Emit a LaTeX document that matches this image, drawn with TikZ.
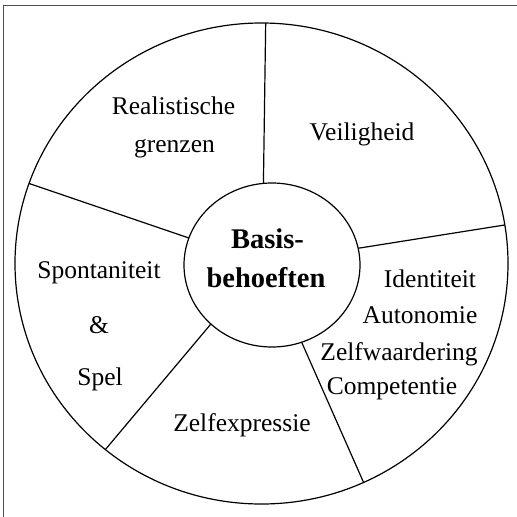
\documentclass[tikz,border=0pt]{standalone}
\usepackage{fontspec}
\setmainfont{Liberation Serif}
\usetikzlibrary{shapes.geometric}
\begin{document}
\begin{tikzpicture}[x=1pt,y=-1pt,
  ring/.style={ellipse,draw=black,line width=1.2pt,inner sep=0pt,outer sep=0pt},
  divider/.style={draw=black,line width=1.2pt},
  txt/.style={anchor=base,inner sep=0pt,font=\fontsize{25.5}{30}\selectfont},
  coretxt/.style={anchor=base,inner sep=0pt,font=\fontsize{28.5}{32}\selectfont\bfseries},
  framing/.style={draw=black!70,line width=1pt}]
\useasboundingbox (0,0) rectangle (517,517);
% frame (top and left edges visible)
\coordinate (fTL) at (3.5,5);
\coordinate (fTR) at (517,5);
\coordinate (fBL) at (3.5,517);
\draw[framing] (fTR) -- (fTL) -- (fBL);
% circles
\node[ring,minimum width=493pt,minimum height=481pt] (outer) at (261.5,263.5) {};
\node[ring,minimum width=176pt,minimum height=164pt] (inner) at (272,265) {};
% dividers
\draw[divider] (inner.96.3) -- (outer.89.3);
\draw[divider] (inner.162.4) -- (outer.161.6);
\draw[divider] (inner.11) -- (outer.9.2);
\draw[divider] (inner.-136.9) -- (outer.-130.7);
\draw[divider] (inner.-69.8) -- (outer.-65.1);
% texts
\node[coretxt] (b1) at (267.5,248) {Basis-};
\node[coretxt] (b2) at (266,287) {behoeften};
\node[txt] (r1) at (173.5,114) {Realistische};
\node[txt] (r2) at (174.5,152) {grenzen};
\node[txt] (v1) at (362,140) {Veiligheid};
\node[txt] (s1) at (99,278) {Spontaniteit};
\node[txt] (s2) at (99,333) {\&};
\node[txt] (s3) at (100,385) {Spel};
\node[txt] (i1) at (430,287) {Identiteit};
\node[txt] (i2) at (420,323) {Autonomie};
\node[txt] (i3) at (399,360) {Zelfwaardering};
\node[txt] (i4) at (392,394) {Competentie};
\node[txt] (z1) at (242,431) {Zelfexpressie};
\end{tikzpicture}
\end{document}
